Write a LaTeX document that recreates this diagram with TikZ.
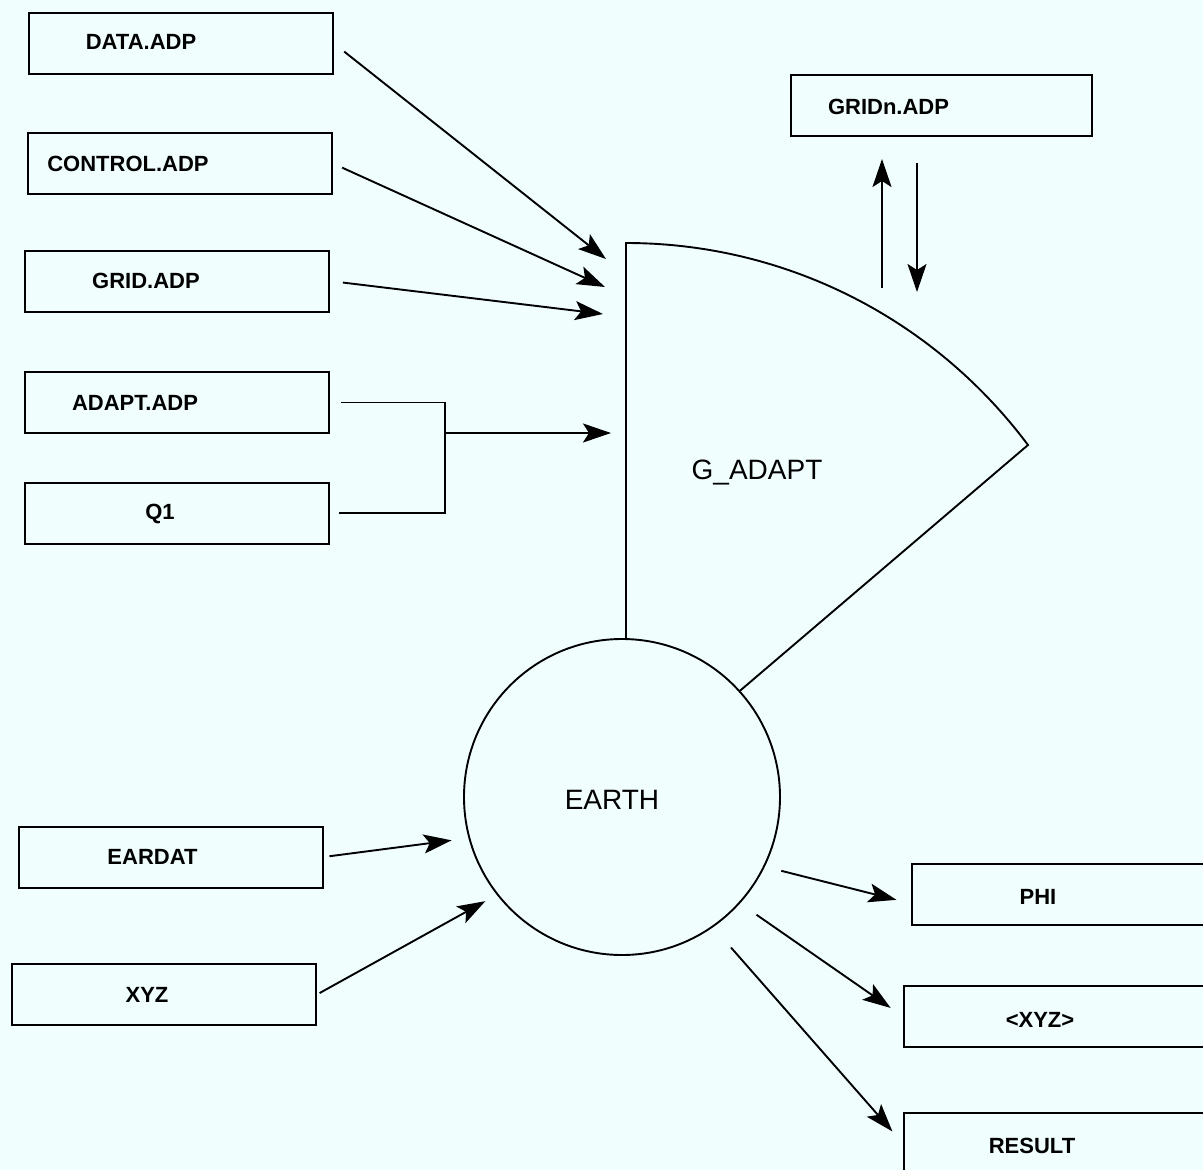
\documentclass[tikz,border=0pt]{standalone}
\usepackage{fontspec}
\setmainfont{Liberation Sans}
\usetikzlibrary{arrows.meta, positioning}
\definecolor{paper}{RGB}{240,254,254}
\tikzset{arr/.style={-{Stealth[length=28pt,width=19pt,inset=6pt]}},
    box/.style={draw, line width=2pt, minimum width=304pt, minimum height=61pt, inner sep=0pt},
    boxtext/.style={font=\fontsize{22}{26}\selectfont\bfseries},
    bigtext/.style={font=\fontsize{28}{32}\selectfont}}

\begin{document}
\begin{tikzpicture}[x=1pt, y=-1pt, line width=1.9pt]
\fill[paper] (0,0) rectangle (1203,1170);
\useasboundingbox (0,0) rectangle (1203,1170);
\node[box, label={[boxtext,xshift=-40pt,yshift=2pt]center:DATA.ADP}] (data) at (181,43.5) {};
\node[box, label={[boxtext,xshift=-52pt]center:CONTROL.ADP}] (control) at (180,163.5) {};
\node[box, label={[boxtext,xshift=-31pt]center:GRID.ADP}] (grid) at (177,281) {};
\node[box, label={[boxtext,xshift=-42pt]center:ADAPT.ADP}] (adapt) at (177,402.5) {};
\node[box, label={[boxtext,xshift=-17pt,yshift=-1pt]center:Q1}] (q1) at (177,513) {};
\node[box, minimum width=301pt, label={[boxtext,xshift=-53pt,yshift=-1pt]center:GRIDn.ADP}] (gridn) at (941.5,105.5) {};
\node[box, label={[boxtext,xshift=-18pt]center:EARDAT}] (eardat) at (170.5,857) {};
\node[box, label={[boxtext,xshift=-17pt]center:XYZ}] (xyz) at (164,994.5) {};
\node[box, label={[boxtext,xshift=-26pt,yshift=-2pt]center:PHI}] (phi) at (1064,894.5) {};
\node[box, label={[boxtext,xshift=-16pt,yshift=-3pt]center:<XYZ>}] (xyzout) at (1056,1016.5) {};
\node[box, label={[boxtext,xshift=-24pt,yshift=-2pt]center:RESULT}] (result) at (1056,1143.5) {};
\node[circle, draw, minimum size=316pt, inner sep=0pt, label={[bigtext,xshift=-10pt,yshift=-3pt]center:EARTH}] (earth) at (622,797) {};
\draw (626,639) -- (626,243) .. controls (785,243) and (933,318) .. (1028,445) -- (earth.42);
\node[bigtext] (gadapt) at (757,473) {G\_ADAPT};
\coordinate (in1) at (606,259);
\coordinate (in2) at (605,287);
\coordinate (in3) at (603,314);
\coordinate (in4) at (611,433);
\coordinate (fork) at (445,433);
\draw[arr, shorten <=13pt] (data.east) -- (in1);
\draw[arr, shorten <=10pt] (control.east) -- (in2);
\draw[arr, shorten <=13pt] (grid.east) -- (in3);
\draw[shorten <=11pt] (adapt.east) -| (fork);
\draw[shorten <=9pt] (q1.east) -| (fork);
\draw[arr] (fork) -- (in4);
\coordinate (gup) at (882,288);
\coordinate (gdown) at (917,292);
\draw[arr, shorten >=22pt] (gup) -- (gup |- gridn.south);
\draw[arr, shorten <=26pt] (gdown |- gridn.south) -- (gdown);
\draw[arr, shorten <=6pt, shorten >=17pt] (eardat.east) -- (earth.195);
\draw[arr, shorten <=3pt, shorten >=13pt] (xyz.east) -- (earth.218);
\draw[arr, shorten <=17pt, shorten >=15pt] (earth.-26) -- ([yshift=-9pt]phi.west);
\draw[arr, shorten <=20pt, shorten >=15pt] (earth.-42) -- (xyzout.west);
\draw[arr, shorten <=27pt, shorten >=16pt] (earth.-55) -- (result.west);
\end{tikzpicture}
\end{document}
